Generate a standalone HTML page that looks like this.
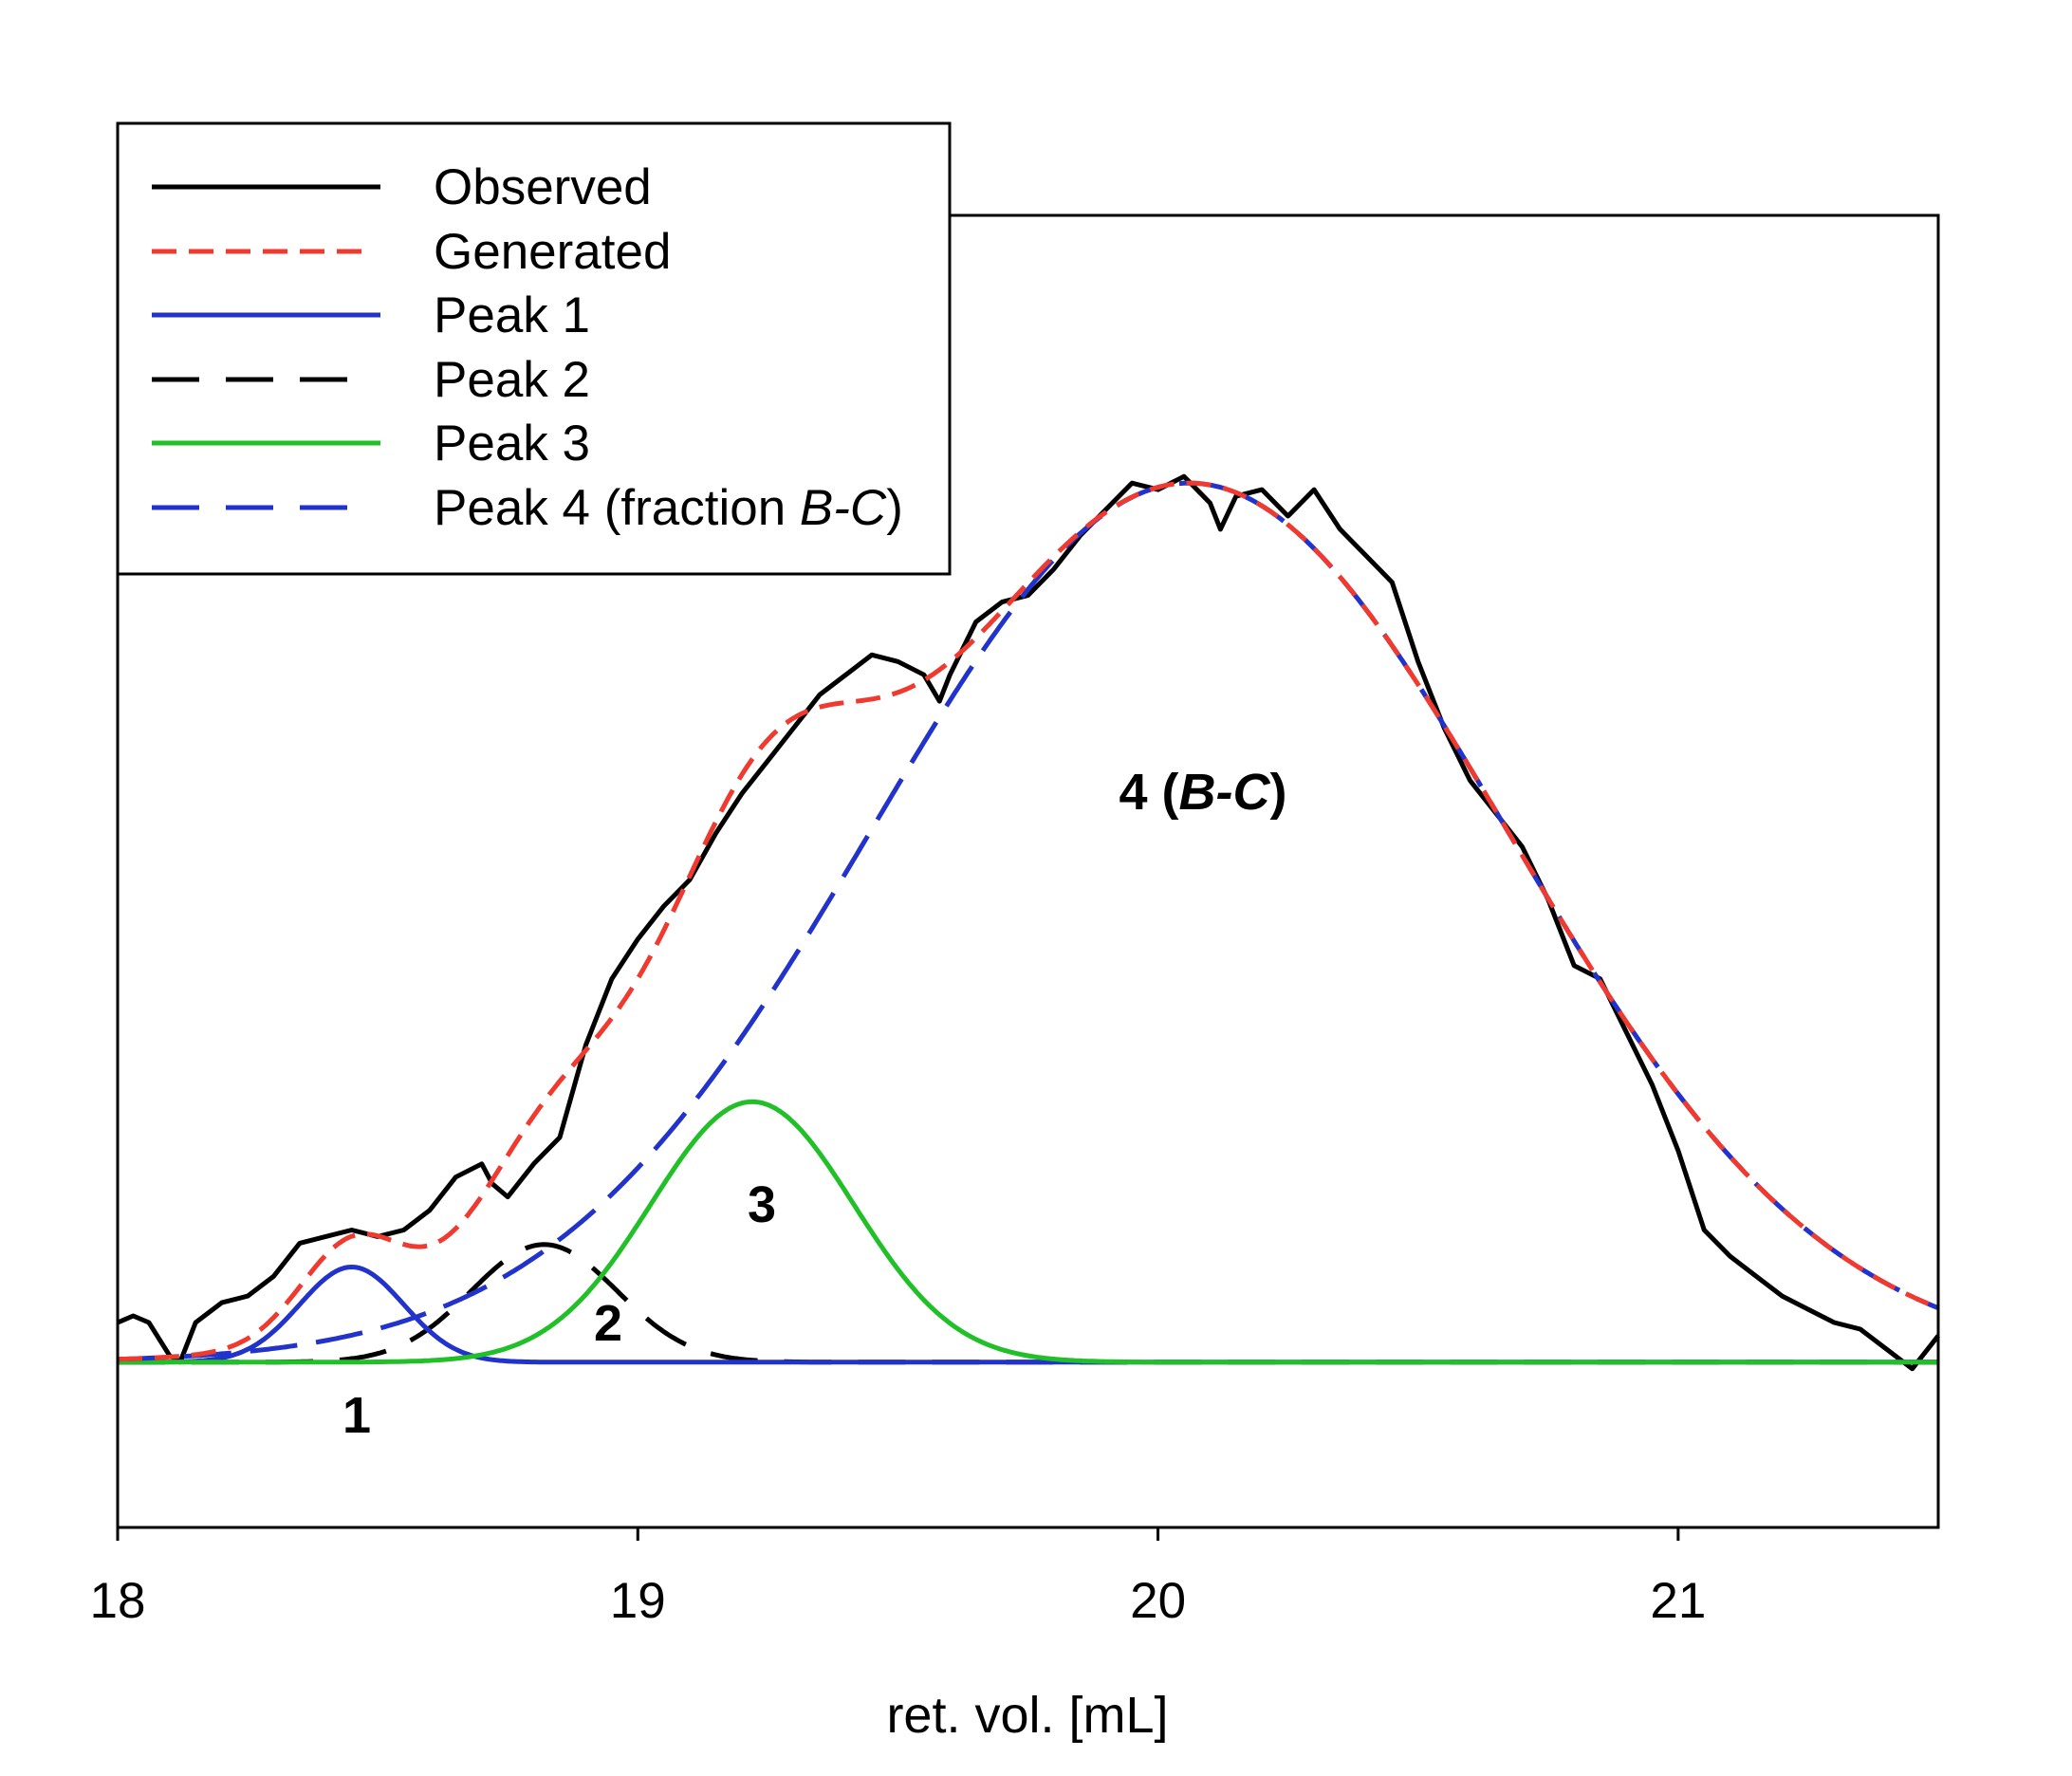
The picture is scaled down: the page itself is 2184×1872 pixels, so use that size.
<!DOCTYPE html>
<html><head><meta charset="utf-8"><style>
html,body{margin:0;padding:0;background:#fff;}
svg{display:block;font-family:"Liberation Sans",sans-serif;}
</style></head><body>
<svg id="chart" width="2184" height="1872" viewBox="0 0 2184 1872">
<rect x="0" y="0" width="2184" height="1872" fill="#fff"/>
<g id="marks"></g>
<rect x="124" y="227" width="1919" height="1383" fill="none" stroke="#000" stroke-width="3"/>
<g id="axis"></g>
<text x="1083" y="1826" font-size="54" text-anchor="middle">ret. vol. [mL]</text>
<text x="376" y="1510" font-size="54" font-weight="bold" text-anchor="middle">1</text>
<text x="641" y="1413" font-size="54" font-weight="bold" text-anchor="middle">2</text>
<text x="803" y="1288" font-size="54" font-weight="bold" text-anchor="middle">3</text>
<text x="1268" y="853" font-size="54" font-weight="bold" text-anchor="middle">4 (<tspan font-style="italic">B-C</tspan>)</text>
<g>
<rect x="124" y="130" width="877" height="475" fill="#fff" stroke="#000" stroke-width="3"/>
<line x1="160" y1="197" x2="401" y2="197" stroke="#000" stroke-width="5"/>
<text x="457" y="215" font-size="53">Observed</text>
<line x1="160" y1="265" x2="385" y2="265" stroke="#f03a30" stroke-width="5" stroke-dasharray="26,13"/>
<text x="457" y="283" font-size="53">Generated</text>
<line x1="160" y1="332" x2="401" y2="332" stroke="#2233cc" stroke-width="5"/>
<text x="457" y="350" font-size="53">Peak 1</text>
<line x1="160" y1="400" x2="385" y2="400" stroke="#000" stroke-width="5" stroke-dasharray="50,28"/>
<text x="457" y="418" font-size="53">Peak 2</text>
<line x1="160" y1="467" x2="401" y2="467" stroke="#22c028" stroke-width="5"/>
<text x="457" y="485" font-size="53">Peak 3</text>
<line x1="160" y1="535" x2="385" y2="535" stroke="#2233cc" stroke-width="5" stroke-dasharray="50,28"/>
<text x="457" y="553" font-size="53">Peak 4 (fraction <tspan font-style="italic">B-C</tspan>)</text>
</g>
</svg>
<script>
const xTicks = [18, 19, 20, 21];
const obsX = [18.0,18.03,18.06,18.1,18.12,18.15,18.2,18.25,18.3,18.35,18.4,18.45,18.5,18.55,18.6,18.65,18.7,18.72,18.75,18.8,18.85,18.9,18.95,19.0,19.05,19.1,19.15,19.2,19.25,19.3,19.35,19.4,19.45,19.5,19.55,19.58,19.6,19.65,19.7,19.75,19.8,19.85,19.9,19.95,20.0,20.05,20.1,20.12,20.15,20.2,20.25,20.3,20.35,20.4,20.45,20.5,20.55,20.6,20.65,20.7,20.75,20.8,20.85,20.9,20.95,21.0,21.05,21.1,21.15,21.2,21.25,21.3,21.35,21.4,21.45,21.5];
const obsY = [0.30,0.35,0.30,0.05,0.0,0.30,0.45,0.50,0.65,0.90,0.95,1.00,0.95,1.00,1.15,1.40,1.50,1.35,1.25,1.50,1.70,2.40,2.90,3.20,3.45,3.65,4.00,4.30,4.55,4.80,5.05,5.20,5.35,5.30,5.20,5.00,5.20,5.60,5.75,5.80,6.00,6.25,6.45,6.65,6.60,6.70,6.50,6.30,6.55,6.60,6.40,6.60,6.30,6.10,5.90,5.30,4.80,4.40,4.15,3.90,3.50,3.00,2.90,2.50,2.10,1.60,1.00,0.80,0.65,0.50,0.40,0.30,0.25,0.10,-0.05,0.20];
const peakCenters = [18.45, 18.82, 19.22, 20.06];
const peakHeights = [0.72, 0.89, 1.97, 6.65];
const peakSigmas = [0.10, 0.14, 0.195, 0.61];

const X0=124, X1=2043, Y0=1610, Y1=227;
const xMin=18, xMax=21.5, yMin=-1.25, yMax=8.675;
const xs = v => X0 + (v - xMin) / (xMax - xMin) * (X1 - X0);
const ys = v => Y0 - (v - yMin) / (yMax - yMin) * (Y0 - Y1);
const NS='http://www.w3.org/2000/svg';
const marks=document.getElementById('marks');
const axis=document.getElementById('axis');

function gauss(i,x){const d=x-peakCenters[i];return peakHeights[i]*Math.exp(-d*d/(2*peakSigmas[i]*peakSigmas[i]));}
function curvePath(fn){let d='';for(let k=0;k<=700;k++){const x=xMin+(xMax-xMin)*k/700;d+=(k?'L':'M')+xs(x).toFixed(1)+','+ys(fn(x)).toFixed(1);}return d;}
function addPath(d,color,dash,name){
  const p=document.createElementNS(NS,'path');
  p.setAttribute('d',d);p.setAttribute('fill','none');p.setAttribute('stroke',color);
  p.setAttribute('stroke-width','5');p.setAttribute('stroke-linejoin','round');
  if(dash)p.setAttribute('stroke-dasharray',dash);
  
  
  marks.appendChild(p);
}
let od='';obsX.forEach((x,i)=>{od+=(i?'L':'M')+xs(x).toFixed(1)+','+ys(obsY[i]).toFixed(1);});
addPath(od,'#000',null,'observed-line');
addPath(curvePath(x=>gauss(1,x)),'#000','50,28','peak-2-line');
addPath(curvePath(x=>gauss(0,x)),'#2233cc',null,'peak-1-line');
addPath(curvePath(x=>gauss(2,x)),'#22c028',null,'peak-3-line');
addPath(curvePath(x=>gauss(3,x)),'#2233cc','50,20','peak-4-line');
addPath(curvePath(x=>gauss(0,x)+gauss(1,x)+gauss(2,x)+gauss(3,x)),'#f03a30','26,13','generated-line');

xTicks.forEach(t=>{
  const l=document.createElementNS(NS,'line');
  l.setAttribute('x1',xs(t));l.setAttribute('x2',xs(t));l.setAttribute('y1',Y0);l.setAttribute('y2',Y0+14);
  l.setAttribute('stroke','#000');l.setAttribute('stroke-width','3');
  
  
  axis.appendChild(l);
  const tx=document.createElementNS(NS,'text');
  tx.setAttribute('x',xs(t));tx.setAttribute('y',1705);tx.setAttribute('font-size','53');tx.setAttribute('text-anchor','middle');
  tx.textContent=t;
  
  
  axis.appendChild(tx);
});
</script>
</body></html>
